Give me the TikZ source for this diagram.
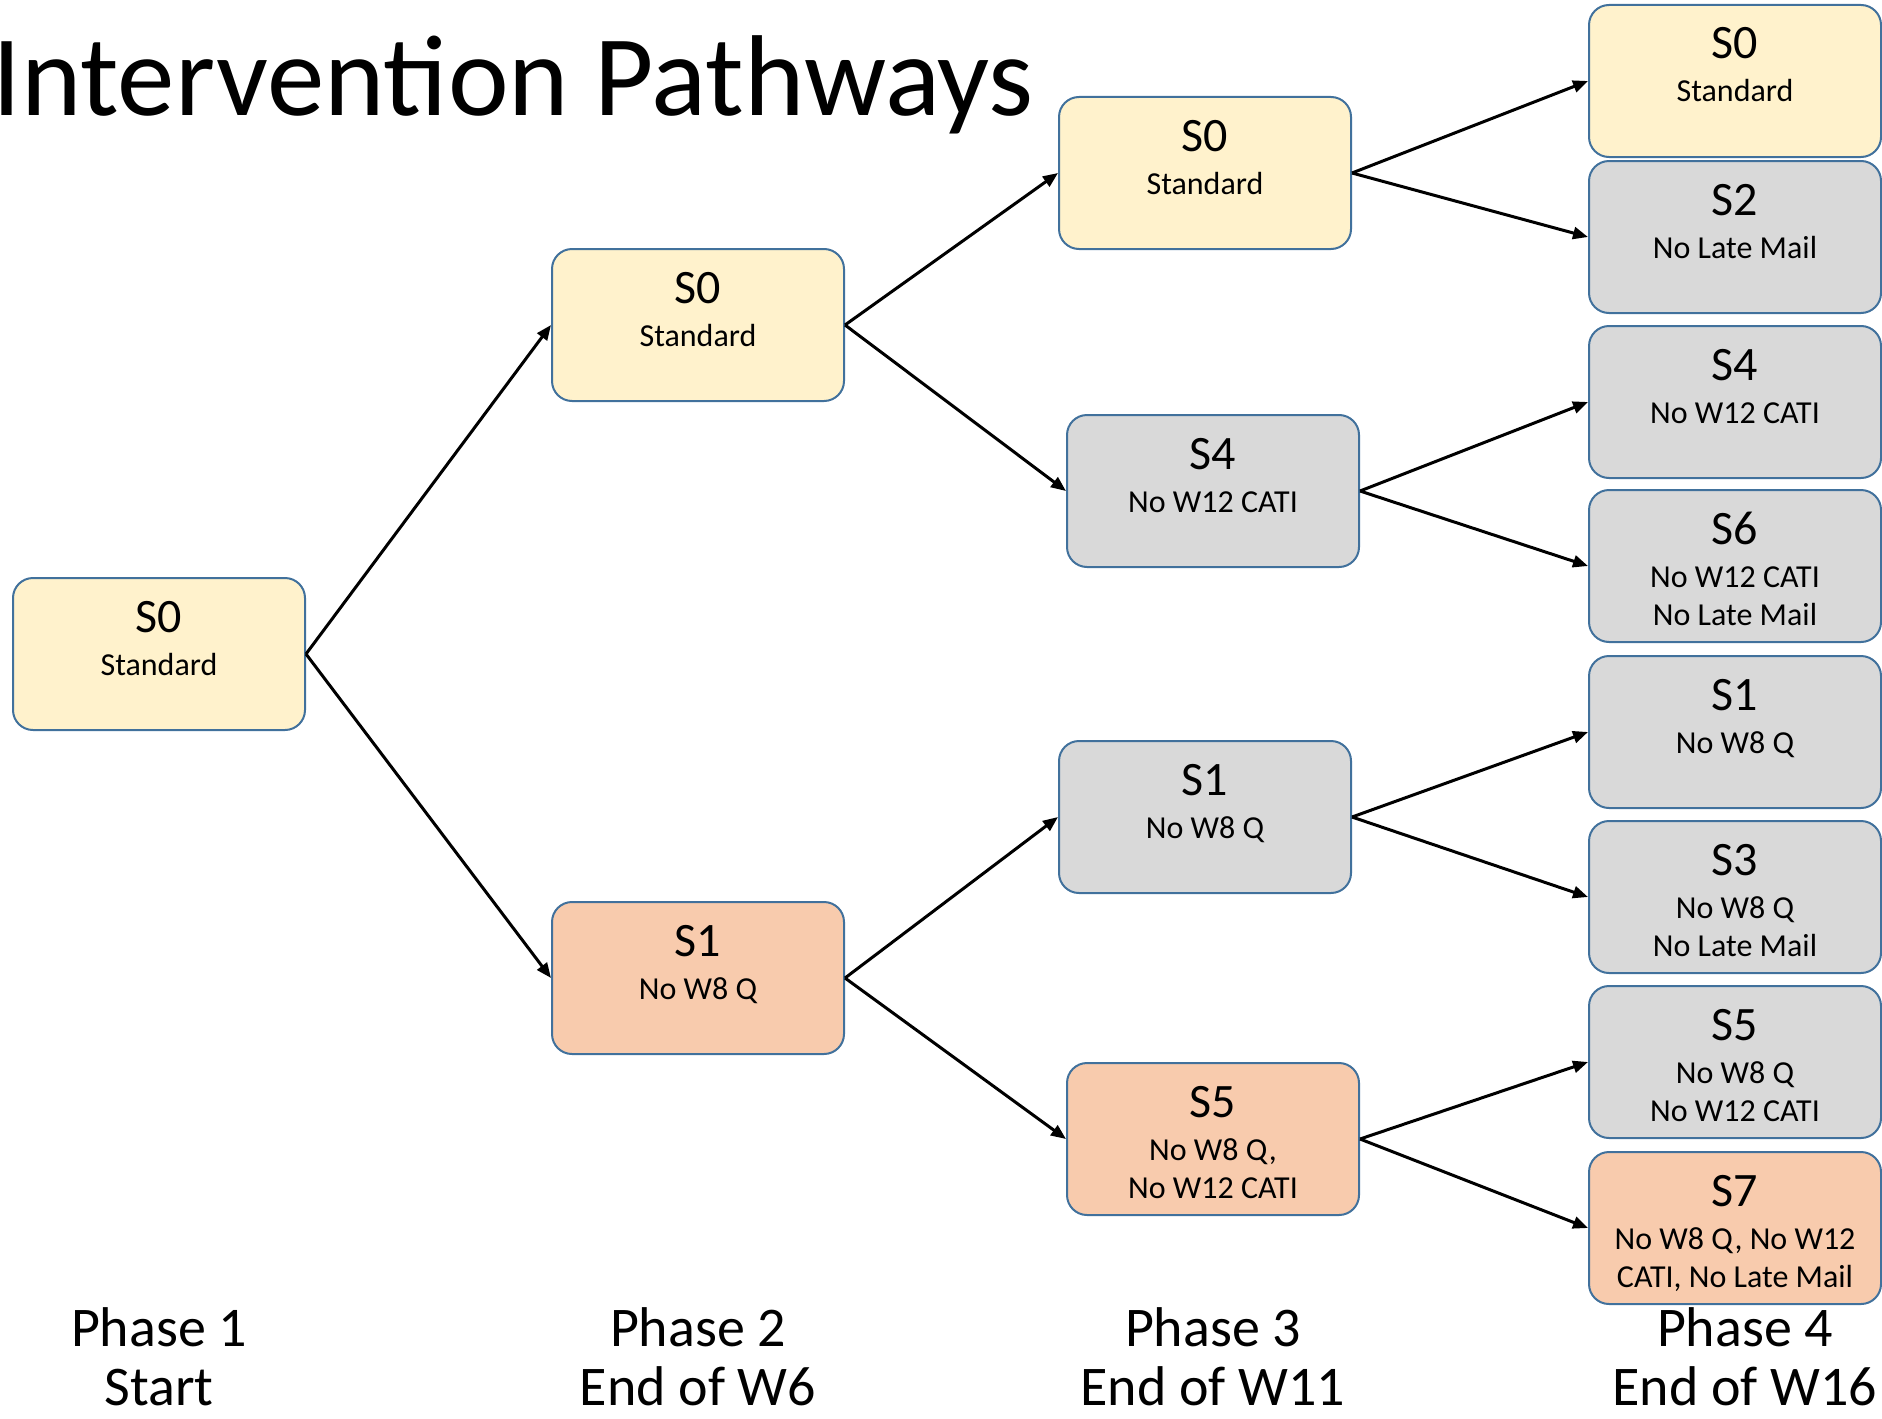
\documentclass[tikz,border=0pt]{standalone}
\usepackage{fontspec}
\setmainfont{Carlito}
\usepackage{xcolor}
\usetikzlibrary{arrows.meta, positioning}

\definecolor{boxline}{HTML}{41719C}
\definecolor{stdfill}{HTML}{FFF2CC}
\definecolor{greyfill}{HTML}{D9D9D9}
\definecolor{orangefill}{HTML}{F8CBAD}

\newcommand{\scen}[1]{{\fontsize{24}{24}\selectfont #1}\\[2.5pt]}
\setlength{\lineskiplimit}{-20pt}

\begin{document}
\begin{tikzpicture}[
    x=0.5pt, y=-0.5pt,
    state/.style={rectangle, draw=boxline, line width=1pt, rounded corners=10pt, inner sep=0pt, text width=146pt, align=flush center, text height=27pt, text depth=49pt, anchor=north, font=\fontsize{16}{19}\selectfont},
    standard/.style={state, fill=stdfill},
    skipped/.style={state, fill=greyfill},
    mainline/.style={state, fill=orangefill},
    phase/.style={text width=220pt, align=flush center, anchor=base, inner sep=0pt, font=\fontsize{28}{29.5}\selectfont},
    arrow/.style={-{Triangle[length=7.5pt,width=6pt]}, line width=1.5pt}
]
\useasboundingbox (0,0) rectangle (1882,1418);

% Title
\node [anchor=base west, inner sep=0pt, font=\fontsize{57.5}{60}\selectfont] (title) at (-8,115) {Intervention Pathways};

% Nodes
\node [standard] (p1s0) at (159,577) {\scen{S0}Standard};

\node [standard] (p2s0) at (698,248) {\scen{S0}Standard};
\node [mainline] (p2s1) at (698,901) {\scen{S1}No W8 Q};

\node [standard] (p3s0) at (1205,96) {\scen{S0}Standard};
\node [skipped] (p3s4) at (1213,414) {\scen{S4}No W12 CATI};
\node [skipped] (p3s1) at (1205,740) {\scen{S1}No W8 Q};
\node [mainline] (p3s5) at (1213,1062) {\scen{S5}No W8 Q,\\No W12 CATI};

\node [standard] (p4s0) at (1735,4) {\scen{S0}Standard};
\node [skipped] (p4s2) at (1735,160) {\scen{S2}No Late Mail};
\node [skipped] (p4s4) at (1735,325) {\scen{S4}No W12 CATI};
\node [skipped] (p4s6) at (1735,489) {\scen{S6}No W12 CATI\\No Late Mail};
\node [skipped] (p4s1) at (1735,655) {\scen{S1}No W8 Q};
\node [skipped] (p4s3) at (1735,820) {\scen{S3}No W8 Q\\No Late Mail};
\node [skipped] (p4s5) at (1735,985) {\scen{S5}No W8 Q\\No W12 CATI};
\node [mainline] (p4s7) at (1735,1151) {\scen{S7}No W8 Q, No W12\\CATI, No Late Mail};

% Phase labels
\node [phase] (ph1) at (159,1346) {Phase 1\\Start};
\node [phase] (ph2) at (698,1346) {Phase 2\\End of W6};
\node [phase] (ph3) at (1213,1346) {Phase 3\\End of W11};
\node [phase] (ph4) at (1745,1346) {Phase 4\\End of W16};

% Branches
\draw [arrow] (p1s0.east) -- (p2s0.west);
\draw [arrow] (p1s0.east) -- (p2s1.west);

\draw [arrow] (p2s0.east) -- (p3s0.west);
\draw [arrow] (p2s0.east) -- (p3s4.west);
\draw [arrow] (p2s1.east) -- (p3s1.west);
\draw [arrow] (p2s1.east) -- (p3s5.west);

\draw [arrow] (p3s0.east) -- (p4s0.west);
\draw [arrow] (p3s0.east) -- (p4s2.west);
\draw [arrow] (p3s4.east) -- (p4s4.west);
\draw [arrow] (p3s4.east) -- (p4s6.west);
\draw [arrow] (p3s1.east) -- (p4s1.west);
\draw [arrow] (p3s1.east) -- (p4s3.west);
\draw [arrow] (p3s5.east) -- (p4s5.west);
\draw [arrow] (p3s5.east) -- (p4s7.west);

\end{tikzpicture}
\end{document}
